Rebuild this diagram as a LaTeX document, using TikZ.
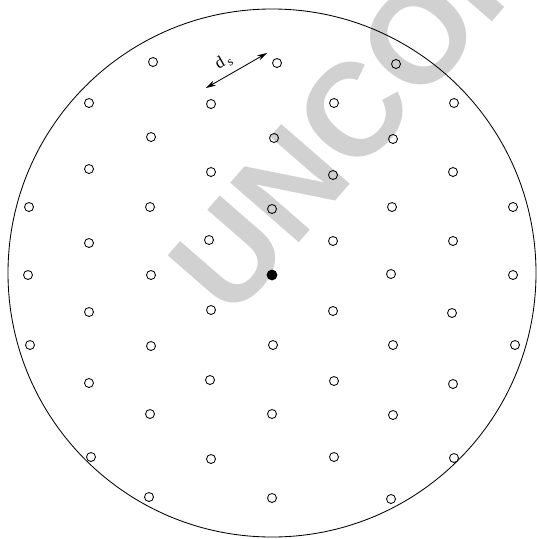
\documentclass[tikz,border=0pt]{standalone}
\usepackage{fontspec}
\setmainfont{Liberation Serif}
\newfontfamily\markfont{Liberation Sans}
\usetikzlibrary{arrows.meta}

\tikzset{
  site/.style={draw,circle,line width=0.6pt,inner sep=0pt,minimum size=0.225cm},
  origin/.style={fill=black,circle,inner sep=0pt,minimum size=0.27cm},
  watermark/.style={text=black!18,font=\markfont\bfseries\fontsize{94}{94}\selectfont,inner sep=0pt}
}

\begin{document}
\begin{tikzpicture}[x=0.025cm,y=-0.025cm]
  \useasboundingbox (0,0) rectangle (537,539);
  % watermark behind everything
  \begin{scope}
    \clip (0,0) rectangle (537,539);
    \node[watermark,rotate=49,anchor=base west] (mark) at (231,322) {UNCORRECTED PROOF};
  \end{scope}
  % outer boundary
  \draw[line width=0.6pt] (272,273) circle (264);
  % sensor sites
  \foreach \x/\y [count=\i] in {153/62,277/63,396/64,
      89/103,211/104,334/103,454/103,
      151/137,274/138,393/139,
      89/169,211/172,333/175,453/172,
      29/207,150/207,272/209,392/207,513/207,
      89/243,209/240,333/241,453/241,
      28/275,151/275,391/274,513/275,
      89/312,211/310,333/311,452/313,
      30/345,151/346,273/345,393/345,515/345,
      89/383,210/380,334/381,453/384,
      150/414,272/414,393/415,
      91/457,211/459,334/457,454/458,
      149/497,272/498,391/499}
    \node[site] (s\i) at (\x,\y) {};
  \node[origin] (s0) at (272,275) {};
  % spacing d_s
  \coordinate (ds-a) at (206,88);
  \coordinate (ds-b) at (267,53);
  \draw[{Stealth[length=7pt,width=4pt]}-{Stealth[length=7pt,width=4pt]},line width=0.6pt] (ds-a) -- (ds-b)
    node[pos=0.4,sloped,above=1pt,font=\fontsize{12}{14}\selectfont] {d\,\raisebox{-0.4ex}{\fontsize{9}{10}\selectfont s}};
\end{tikzpicture}
\end{document}
